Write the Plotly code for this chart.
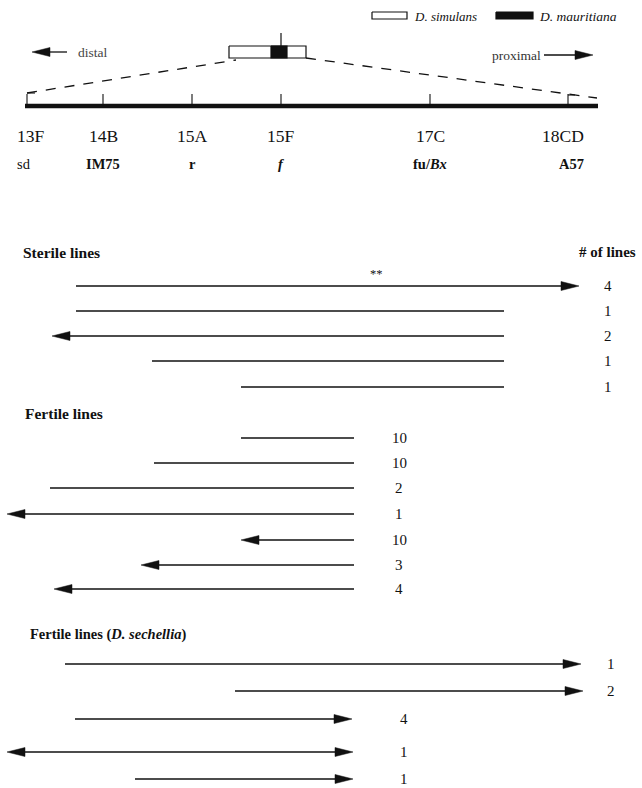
import plotly.graph_objects as go

# ---------------- data ----------------
map_bands = ["13F", "14B", "15A", "15F", "17C", "18CD"]
map_genes = ["sd", "<b>IM75</b>", "<b>r</b>", "<b><i>f</i></b>", "<b>fu/<i>Bx</i></b>", "<b>A57</b>"]
map_pos = [27, 103, 192, 281, 430, 568]
chrom_span = [25, 598]

sterile_start = [76, 76, 52, 152, 241]
sterile_end = [579, 504, 504, 504, 504]
sterile_left_arrow = [False, False, True, False, False]
sterile_right_arrow = [True, False, False, False, False]
sterile_counts = ["4", "1", "2", "1", "1"]
sterile_y = [286, 311, 336, 361, 387]

fertile_start = [241, 154, 50, 7, 241, 141, 54]
fertile_end = [354, 354, 354, 354, 354, 354, 354]
fertile_left_arrow = [False, False, False, True, True, True, True]
fertile_right_arrow = [False] * 7
fertile_counts = ["10", "10", "2", "1", "10", "3", "4"]
fertile_y = [438, 463, 488, 514, 540, 565, 589]

sech_start = [65, 235, 75, 7, 135]
sech_end = [581, 583, 352, 353, 353]
sech_left_arrow = [False, False, False, True, False]
sech_right_arrow = [True, True, True, True, True]
sech_counts = ["1", "2", "4", "1", "1"]
sech_y = [664, 691, 719, 752, 779]

INK = "#111111"
SERIF = "Liberation Serif"
HEAD_L = 18
HEAD_H = 4.5

fig = go.Figure()


def add_line(x0, x1, y, width=1.3, dash=None, color=INK, y1=None):
    fig.add_trace(go.Scatter(x=[x0, x1], y=[y, y if y1 is None else y1], mode="lines",
                             line=dict(color=color, width=width, dash=dash),
                             hoverinfo="skip", showlegend=False))


def add_head(xtip, y, direction):
    base = xtip - direction * HEAD_L
    fig.add_trace(go.Scatter(x=[xtip, base, base, xtip], y=[y, y - HEAD_H, y + HEAD_H, y],
                             mode="lines", fill="toself", fillcolor=INK,
                             line=dict(color=INK, width=0.5),
                             hoverinfo="skip", showlegend=False))


def add_rect(x0, x1, y0, y1, fill):
    fig.add_trace(go.Scatter(x=[x0, x1, x1, x0, x0], y=[y0, y0, y1, y1, y0], mode="lines",
                             fill="toself", fillcolor=fill, line=dict(color=INK, width=1.2),
                             hoverinfo="skip", showlegend=False))


def text(x, y, s, size, xanchor="center", color=INK, family=SERIF):
    fig.add_annotation(x=x, y=y, text=s, showarrow=False, xanchor=xanchor, yanchor="middle",
                       font=dict(family=family, size=size, color=color))


# ---------------- legend ----------------
add_rect(372, 407, 12, 19, "white")
text(412, 16, "<i>D. simulans</i>", 13, "left")
add_rect(496, 533, 12, 19, INK)
text(537, 16, "<i>D. mauritiana</i>", 13.5, "left")

# distal / proximal
add_line(45, 67, 52, width=1.3)
add_head(32, 52, -1)
text(76, 52, "distal", 13.5, "left", color="#444444")
text(490, 55, "proximal", 13.5, "left", color="#333333")
add_line(544, 580, 55, width=1.3)
add_head(593, 55, 1)

# inset box
add_rect(229, 306, 46, 58, "white")
add_rect(271, 287, 46, 58, INK)
add_line(281, 281, 33, width=1.2, y1=46)

# dashed expansion lines
add_line(map_pos[0], 236, 93, width=1.3, dash="10px,9px", y1=60)
add_line(306, 597, 58, width=1.3, dash="10px,9px", y1=98)

# chromosome
add_line(chrom_span[0], chrom_span[1], 106, width=4.5)
for i, xp in enumerate(map_pos):
    add_line(xp, xp, 94, width=1.1, y1=106)
# small caps on end ticks
add_line(map_pos[0], map_pos[0] + 8, 93, width=1.1)
add_line(map_pos[-1], map_pos[-1] + 7, 95, width=1.1)

band_dx = [4, 0, 0, 0, 0, -5]
gene_dx = [-3, 0, 0, 0, 0, 3]
for i, xp in enumerate(map_pos):
    text(xp + band_dx[i], 136, map_bands[i], 17.5)
    text(xp + gene_dx[i], 164, map_genes[i], 14.5)

# ---------------- line groups ----------------
def draw_group(starts, ends, larr, rarr, counts, ys, count_x):
    for s, e, la, ra, c, y, cx in zip(starts, ends, larr, rarr, counts, ys, count_x):
        x0 = s + HEAD_L if la else s
        x1 = e - HEAD_L if ra else e
        add_line(x0, x1, y, width=1.3)
        if la:
            add_head(s, y, -1)
        if ra:
            add_head(e, y, 1)
        text(cx, y, c, 15)


text(21, 252, "<b>Sterile lines</b>", 15.5, "left")
text(607, 252, "<b># of lines</b>", 15, "center")
draw_group(sterile_start, sterile_end, sterile_left_arrow, sterile_right_arrow,
           sterile_counts, sterile_y, [608] * 5)
text(376, 274, "**", 12.5)

text(23, 413, "<b>Fertile lines</b>", 15.5, "left")
draw_group(fertile_start, fertile_end, fertile_left_arrow, fertile_right_arrow,
           fertile_counts, fertile_y, [399] * 7)

text(28, 634, "<b>Fertile lines (<i>D. sechellia</i>)</b>", 14.5, "left")
draw_group(sech_start, sech_end, sech_left_arrow, sech_right_arrow,
           sech_counts, sech_y, [611, 611, 404, 404, 404])

fig.update_layout(
    width=642, height=788,
    margin=dict(l=0, r=0, t=0, b=0),
    paper_bgcolor="white", plot_bgcolor="white",
    xaxis=dict(range=[0, 642], visible=False, fixedrange=True),
    yaxis=dict(range=[788, 0], visible=False, fixedrange=True),
    showlegend=False,
)

fig.write_html("out.html", config={"displayModeBar": False},
               post_script="document.body.style.margin='0';document.body.style.overflow='hidden';")
